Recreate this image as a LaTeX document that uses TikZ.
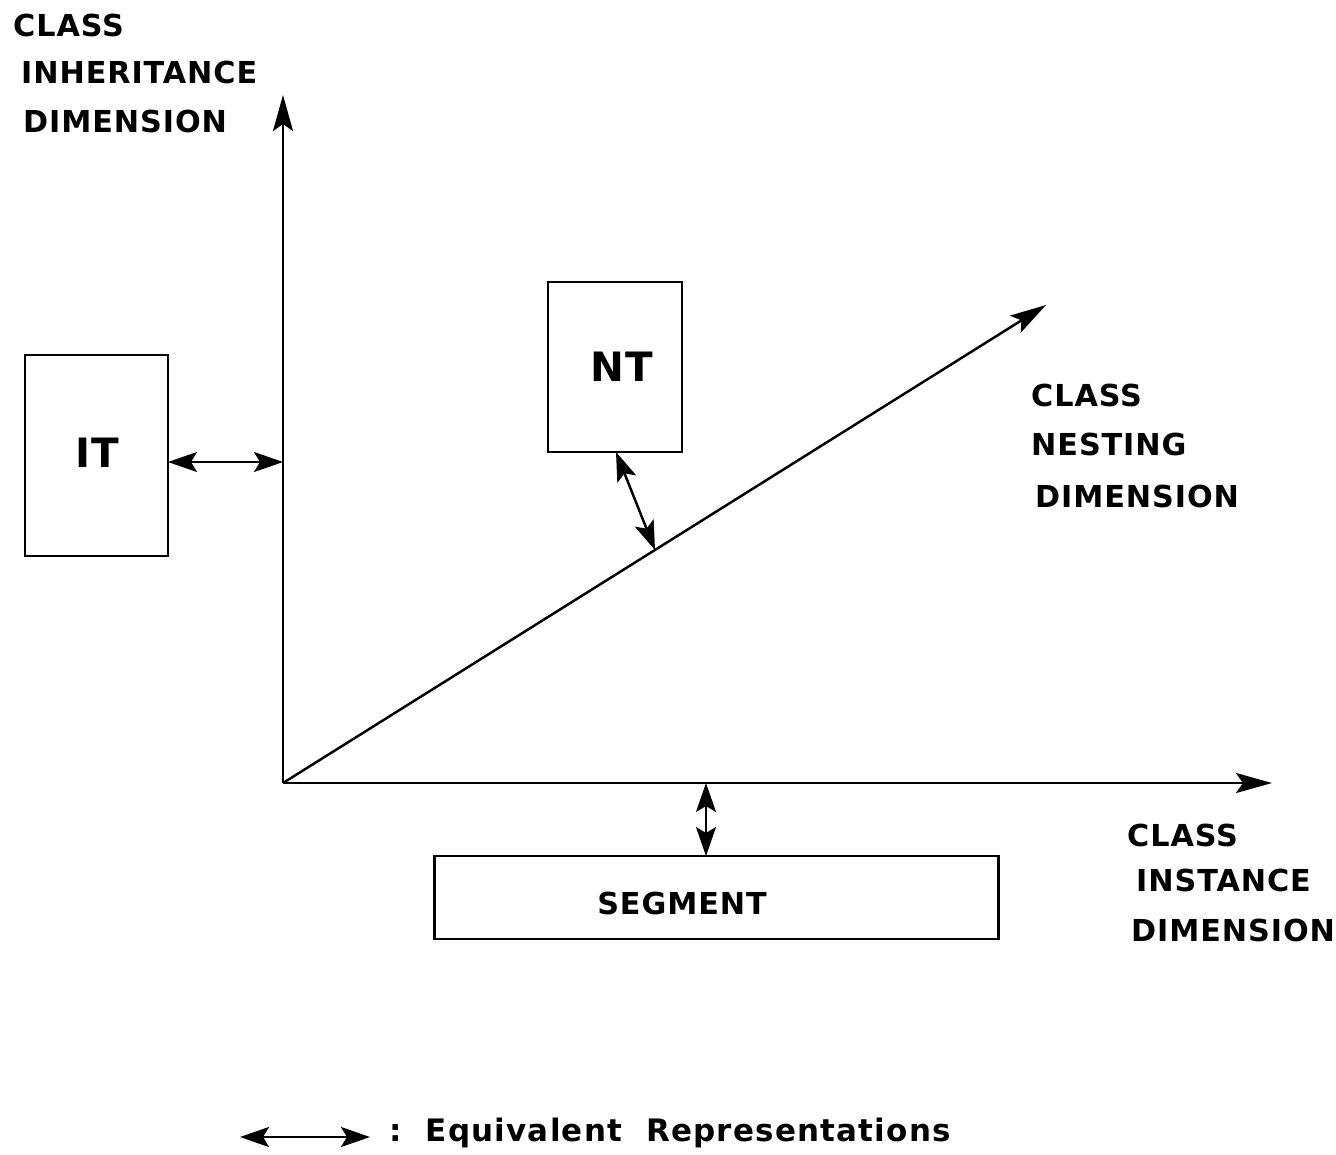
\documentclass[tikz,border=0pt]{standalone}
\usepackage{fontspec}
\setmainfont{DejaVu Sans}
\newfontfamily\plotfont[LetterSpace=3]{DejaVu Sans}
\newfontfamily\legfont[LetterSpace=4]{DejaVu Sans}
\usetikzlibrary{arrows.meta}
\begin{document}
\begin{tikzpicture}[x=0.01cm,y=-0.01cm,
  line width=0.7pt,
  lbl/.style={font=\plotfont\bfseries\fontsize{8.6}{10}\selectfont, anchor=west, inner sep=0pt},
  bigt/.style={font=\plotfont\bfseries\fontsize{11.5}{12}\selectfont, inner sep=0pt},
  boxt/.style={draw, line width=0.8pt, inner sep=0pt, outer sep=0pt},
  eqv/.style={{Stealth[length=2.9mm,width=2mm,inset=0.6mm]}-{Stealth[length=2.9mm,width=2mm,inset=0.6mm]}},
  axis/.style={-{Stealth[length=3.6mm,width=2mm,inset=0.7mm]}}]
\useasboundingbox (0,0) rectangle (1336,1154);
% axes
\coordinate (O) at (283,783);
\coordinate (Ytop) at (283,95);
\coordinate (Xend) at (1272,783);
\coordinate (Zend) at (1046,305);
\draw[axis] (O) -- (Ytop);
\draw[axis] (O) -- (Xend);
\draw[axis] (O) -- (Zend);
% boxes
\node[boxt, minimum width=1.43cm, minimum height=2.01cm] (ITbox) at (96.5,455.5) {};
\node[bigt] (IT) at (97,453) {IT};
\node[boxt, minimum width=1.34cm, minimum height=1.70cm] (NTbox) at (615,367) {};
\node[bigt] (NT) at (622,367) {NT};
\node[boxt, minimum width=5.63cm, minimum height=0.83cm] (SEGbox) at (716.5,897.5) {};
\node[font=\plotfont\bfseries\fontsize{8.6}{10}\selectfont, inner sep=0pt] (SEG) at (682,903) {SEGMENT};
% coordinates for connectors
\coordinate (ITr) at (168,462);
\coordinate (Yax) at (283,462);
\coordinate (NTb) at (616,452);
\coordinate (Zpt) at (655,550);
\coordinate (Xpt) at (706,783);
\coordinate (SEGt) at (706,856);
\draw[eqv] (ITr) -- (Yax);
\draw[eqv] (NTb) -- (Zpt);
\draw[eqv] (Xpt) -- (SEGt);
% labels
\node[lbl] (l1) at (12,25) {CLASS};
\node[lbl] (l2) at (20,72) {INHERITANCE};
\node[lbl] (l3) at (22,121) {DIMENSION};
\node[lbl] (n1) at (1030,395) {CLASS};
\node[lbl] (n2) at (1030,444) {NESTING};
\node[lbl] (n3) at (1034,496) {DIMENSION};
\node[lbl] (i1) at (1126,835) {CLASS};
\node[lbl] (i2) at (1135,880) {INSTANCE};
\node[lbl] (i3) at (1130,930) {DIMENSION};
% legend
\coordinate (L1) at (240,1137);
\coordinate (L2) at (370,1137);
\draw[eqv] (L1) -- (L2);
\node[font=\legfont\bfseries\fontsize{8.8}{10}\selectfont, anchor=west, inner sep=0pt] (leg) at (388,1133) {:\ \ Equivalent\ \ Representations};
\end{tikzpicture}
\end{document}
